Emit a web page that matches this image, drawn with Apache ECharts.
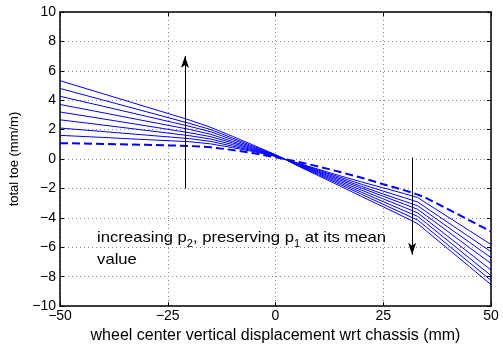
<!DOCTYPE html>
<html>
<head>
<meta charset="utf-8">
<script src="https://cdn.jsdelivr.net/npm/echarts@6/dist/echarts.min.js"></script>
<style>html,body{margin:0;padding:0;background:#fff}#c{width:503px;height:349px}</style>
</head>
<body>
<div id="c"></div>
<script>
// ---- data ----
const X = [-50,-40,-30,-20,-15,-10,-5,0,2,5,10,15,20,25,30,33,35,40,45,50];
const line1 = [5.33,4.44,3.55,2.66,2.15,1.55,0.93,0.30,0.02,-0.44,-1.14,-1.84,-2.55,-3.25,-3.96,-4.40,-4.89,-6.10,-7.32,-8.54];
const line2 = [4.80,4.01,3.22,2.43,2.00,1.43,0.85,0.28,0.02,-0.42,-1.07,-1.73,-2.40,-3.08,-3.75,-4.15,-4.63,-5.84,-7.04,-8.25];
const line3 = [4.27,3.59,2.91,2.23,1.85,1.32,0.78,0.26,0.01,-0.39,-1.00,-1.63,-2.26,-2.90,-3.53,-3.90,-4.37,-5.55,-6.74,-7.92];
const line4 = [3.71,3.15,2.58,2.02,1.68,1.20,0.72,0.24,0.01,-0.36,-0.94,-1.53,-2.12,-2.71,-3.30,-3.66,-4.12,-5.26,-6.40,-7.54];
const line5 = [3.20,2.73,2.26,1.79,1.52,1.10,0.66,0.22,0.00,-0.33,-0.88,-1.43,-1.98,-2.53,-3.08,-3.42,-3.85,-4.93,-6.02,-7.10];
const line6 = [2.67,2.31,1.95,1.59,1.36,0.99,0.60,0.21,0.00,-0.30,-0.82,-1.34,-1.86,-2.38,-2.88,-3.18,-3.59,-4.63,-5.66,-6.70];
const line7 = [2.11,1.87,1.63,1.39,1.20,0.88,0.55,0.20,0.00,-0.28,-0.76,-1.24,-1.72,-2.18,-2.64,-2.92,-3.32,-4.31,-5.30,-6.30];
const line8 = [1.61,1.47,1.32,1.18,1.03,0.78,0.50,0.18,0.00,-0.26,-0.70,-1.14,-1.56,-1.96,-2.36,-2.62,-3.00,-3.93,-4.87,-5.81];
const meanLine = [1.08,1.03,0.97,0.89,0.80,0.62,0.39,0.12,0.00,-0.17,-0.51,-0.88,-1.27,-1.71,-2.13,-2.42,-2.65,-3.40,-4.17,-4.93];
const solidLines = [line1,line2,line3,line4,line5,line6,line7,line8];

const xTicks = [-50,-25,0,25,50];
const yTicks = [-10,-8,-6,-4,-2,0,2,4,6,8,10];
const xName = 'wheel center vertical displacement wrt chassis (mm)';
const yName = 'total toe (mm/m)';
const arrowUp = [[-21,-2],[-21,7.0]];
const arrowDown = [[31.7,0.1],[31.7,-6.5]];
const noteAnchor = [-41.4, -5.15];

// ---- chart ----
const chart = echarts.init(document.getElementById('c'), null, {renderer:'canvas'});
const FONT = 'Liberation Sans';
const fmt = v => String(v).replace('-', '\u2212');
const pairs = arr => X.map((x,i)=>[x, arr[i]]);

const series = solidLines.map(arr => ({
  type:'line', data: pairs(arr), symbol:'none', silent:true,
  lineStyle:{color:'#0000ff', width:1}
}));
series.push({
  type:'line', data: pairs(meanLine), symbol:'none', silent:true,
  lineStyle:{color:'#0000ff', width:2, type:[8,4]}
});
series.push({
  type:'line', data: [], silent:true,
  markLine:{
    silent:true, symbol:['none','arrow'], symbolSize:[6,12],
    label:{show:false},
    lineStyle:{color:'#000', width:1, type:'solid'},
    data:[
      [{coord:arrowUp[0]},{coord:arrowUp[1]}],
      [{coord:arrowDown[0]},{coord:arrowDown[1]}]
    ]
  }
});

const tickCommon = {show:true, inside:true, length:4, lineStyle:{color:'#000'}};
chart.setOption({
  animation:false,
  textStyle:{fontFamily:FONT},
  grid:{left:60, right:12, top:12, bottom:36, show:false},
  xAxis:[{
    type:'value', min:-50, max:50, interval:25,
    axisLine:{show:true, onZero:false, lineStyle:{color:'#000', width:1.5}},
    axisTick:tickCommon,
    axisLabel:{color:'#000', fontSize:14, fontFamily:FONT, margin:3, formatter:fmt},
    splitLine:{show:true, lineStyle:{color:'#8a8a8a', width:1, type:[1,3]}},
    name:xName, nameLocation:'middle', nameGap:21,
    nameTextStyle:{color:'#000', fontSize:16, fontFamily:FONT}
  },{
    type:'value', min:-50, max:50, interval:25, position:'top',
    axisLine:{show:true, onZero:false, lineStyle:{color:'#000', width:1.5}},
    axisTick:tickCommon, axisLabel:{show:false}, splitLine:{show:false}
  }],
  yAxis:[{
    type:'value', min:-10, max:10, interval:2,
    axisLine:{show:true, onZero:false, lineStyle:{color:'#000', width:1.5}},
    axisTick:tickCommon,
    axisLabel:{color:'#000', fontSize:14, fontFamily:FONT, margin:4, formatter:fmt},
    splitLine:{show:true, lineStyle:{color:'#8a8a8a', width:1, type:[1,3]}},
    name:yName, nameLocation:'middle', nameGap:34, nameRotate:90,
    nameTextStyle:{color:'#000', fontSize:13, fontFamily:FONT}
  },{
    type:'value', min:-10, max:10, interval:2, position:'right',
    axisLine:{show:true, onZero:false, lineStyle:{color:'#000', width:1.5}},
    axisTick:tickCommon, axisLabel:{show:false}, splitLine:{show:false}
  }],
  series: series
});

const p = chart.convertToPixel({xAxisIndex:0, yAxisIndex:0}, noteAnchor);
chart.setOption({
  graphic:[{
    type:'text', x:p[0], y:p[1]-8, scaleX:1.11, silent:true,
    style:{
      text:'increasing p{s|2}, preserving p{s|1} at its mean\nvalue',
      fontFamily:FONT, fontSize:15, fill:'#000', lineHeight:22,
      rich:{s:{fontSize:10, fontFamily:FONT, fill:'#000', verticalAlign:'bottom', padding:[8,0,0,0]}}
    }
  }]
});
</script>
</body>
</html>
